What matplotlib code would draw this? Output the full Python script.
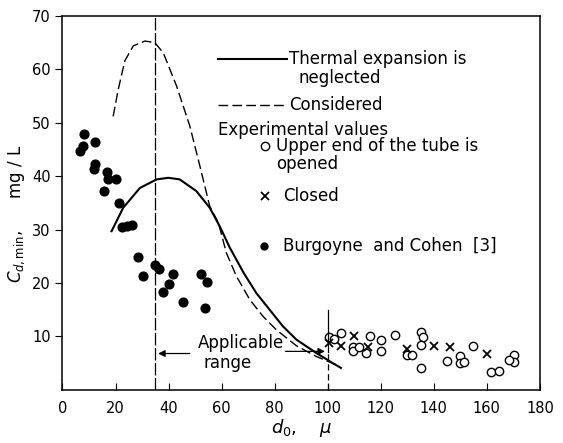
import matplotlib
matplotlib.use("Agg")
import matplotlib.pyplot as plt

# curve: thermal expansion neglected
d_neglected = [18.5, 22.9, 29.2, 35.5, 39.9, 44.2, 50.5, 55.5, 59.3, 63.1, 68.3, 73.1, 78.1, 83.1, 88.2, 95.7, 101.9, 105]
c_neglected = [29.7, 34.1, 37.8, 39.4, 39.7, 39.4, 37.2, 34.1, 30.6, 26.6, 21.9, 18.1, 15.0, 11.9, 9.4, 6.9, 5.0, 4.1]

# curve: thermal expansion considered
d_considered = [19.1, 21.0, 23.5, 26.7, 31.1, 34.8, 38.0, 43.0, 48.0, 51.8, 55.5, 58.8, 61.8, 65.6, 70.6, 75.6, 80.6, 88.2, 95.7, 104.5]
c_considered = [51.2, 56.2, 61.6, 64.4, 65.3, 65.0, 63.1, 56.9, 49.4, 41.9, 34.4, 31.25, 25.6, 21.25, 16.9, 13.75, 11.25, 8.25, 6.25, 4.4]

# Burgoyne and Cohen [3]
d_bc = [8.1, 6.6, 7.8, 12.3, 12.3, 11.7, 16.9, 17.0, 20.3, 15.5, 21.4,
        22.3, 24.2, 26.1, 28.5, 30.4, 34.8, 36.4, 41.5, 40.0, 37.9, 45.6, 52.4, 54.5, 53.8]
c_bc = [47.9, 44.8, 45.6, 46.4, 42.3, 41.4, 40.8, 39.4, 39.4, 37.2, 35.0,
        30.4, 30.6, 30.8, 24.9, 21.3, 23.4, 22.6, 21.75, 19.9, 18.4, 16.4, 21.75, 20.25, 15.25]

# upper end of the tube opened
d_open = [100.3, 102.4, 104.9, 109.7, 109.7, 111.9, 114.3, 115.8, 120.2, 120.2, 125.2,
          130.0, 131.7, 135.3, 136.0, 135.0, 135.3, 145.0, 149.7, 149.7, 151.2, 154.6,
          161.7, 164.7, 170.3, 170.3, 168.4]
c_open = [9.9, 9.5, 10.7, 8.0, 7.2, 8.0, 6.9, 10.1, 9.4, 7.3, 10.3,
          6.6, 6.6, 10.75, 9.9, 8.4, 4.0, 5.4, 6.25, 5.0, 5.3, 8.25,
          3.4, 3.6, 6.6, 5.2, 5.6]

# upper end closed
d_closed = [100.6, 104.9, 110.0, 115.0, 130.0, 140.0, 146.0, 160.0]
c_closed = [8.7, 8.3, 10.0, 8.0, 7.7, 8.3, 8.0, 6.8]

x_ticks = [0, 20, 40, 60, 80, 100, 120, 140, 160, 180]
y_ticks = [10, 20, 30, 40, 50, 60, 70]

fs = 12
fig = plt.figure(figsize=(5.63, 4.43), dpi=100)
ax = fig.add_axes([0.111, 0.12, 0.848, 0.844])

ax.plot(d_neglected, c_neglected, color="black", lw=1.5)
ax.plot(d_considered, c_considered, color="black", lw=1.0, linestyle=(0, (7, 3)))

ax.plot(d_bc, c_bc, "o", color="black", ms=6.3)
ax.plot(d_open, c_open, "o", mfc="white", mec="black", mew=1.0, ms=6)
ax.plot(d_closed, c_closed, "x", color="black", ms=6, mew=1.3)

# limits of the applicable range
ax.plot([35, 35], [0, 70], color="black", lw=0.9, linestyle=(0, (10, 2)))
ax.plot([100, 100], [7, 15], color="black", lw=0.9)
ax.plot([100, 100], [0, 7], color="black", lw=0.9, linestyle=(0, (5, 3)))
ax.annotate("", xy=(35, 6.8), xytext=(49, 6.8),
            arrowprops=dict(arrowstyle="-|>", color="black", lw=0.9, mutation_scale=10))
ax.annotate("", xy=(100, 7.2), xytext=(83, 7.2),
            arrowprops=dict(arrowstyle="-|>", color="black", lw=0.9, mutation_scale=10))
ax.text(51, 8.8, "Applicable", fontsize=fs, va="center")
ax.text(53, 5.0, "range", fontsize=fs, va="center")

# legend drawn by hand
ax.plot([58.5, 84.5], [61.9, 61.9], color="black", lw=1.5)
ax.text(85.5, 61.9, "Thermal expansion is", fontsize=fs, va="center")
ax.text(89, 58.4, "neglected", fontsize=fs, va="center")
ax.plot([58.5, 84.5], [53.25, 53.25], color="black", lw=1.0, linestyle=(0, (7, 3)))
ax.text(85.5, 53.25, "Considered", fontsize=fs, va="center")
ax.text(58.5, 48.6, "Experimental values", fontsize=fs, va="center")
ax.plot([76.2], [45.6], "o", mfc="white", mec="black", mew=1.0, ms=6)
ax.text(80.5, 45.6, "Upper end of the tube is", fontsize=fs, va="center")
ax.text(80.5, 42.2, "opened", fontsize=fs, va="center")
ax.plot([76.2], [36.2], "x", color="black", ms=6, mew=1.3)
ax.text(83, 36.2, "Closed", fontsize=fs, va="center")
ax.plot([75.9], [26.9], "o", color="black", ms=5)
ax.text(83, 26.9, "Burgoyne  and Cohen  [3]", fontsize=fs, va="center")

ax.set_xlim(0, 180)
ax.set_ylim(0, 70)
ax.set_xticks(x_ticks)
ax.set_yticks(y_ticks)
ax.tick_params(axis="x", direction="in", length=5, labelsize=10.5, pad=8)
ax.tick_params(axis="y", direction="out", length=5, labelsize=10.5)
for s in ax.spines.values():
    s.set_linewidth(1.1)

ax.set_xlabel(r"$d_0$,    $\mu$", fontsize=13, labelpad=1)
ax.set_ylabel(r"$C_{d,\mathrm{min}}$,      mg / L", fontsize=12)
ax.yaxis.set_label_coords(-0.075, 0.47)

fig.savefig("out.png", dpi=100)
